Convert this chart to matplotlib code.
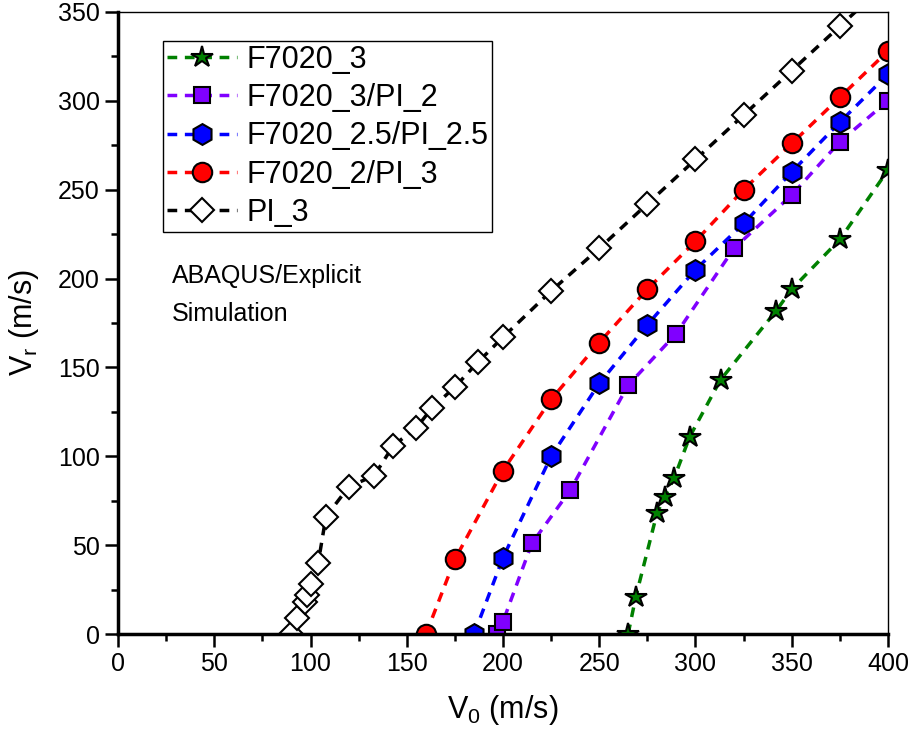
import numpy as np
import matplotlib
matplotlib.use("Agg")
import matplotlib.pyplot as plt
from matplotlib.ticker import MultipleLocator

plt.rcParams['font.family'] = ['Liberation Sans', 'DejaVu Sans']

# impact velocity V0 vs residual velocity Vr (m/s)
f3_v0 = [265, 269, 280, 284, 289, 297, 313, 342, 350, 375, 400]
f3_vr = [0, 21, 68, 77, 88, 111, 143, 182, 194, 222, 261]

f3pi2_v0 = [197, 200, 215, 235, 265, 290, 320, 350, 375, 400]
f3pi2_vr = [0, 7, 51, 81, 140, 169, 217, 247, 277, 300]

f25pi25_v0 = [185, 200, 225, 250, 275, 300, 325, 350, 375, 400]
f25pi25_vr = [0, 43, 100, 141, 174, 205, 231, 260, 288, 315]

f2pi3_v0 = [160, 175, 200, 225, 250, 275, 300, 325, 350, 375, 400]
f2pi3_vr = [0, 42, 92, 132, 164, 194, 221, 250, 276, 302, 328]

pi3_v0 = [90, 93, 97, 98, 100, 104, 108, 120, 133, 143, 155, 163, 175,
          187, 200, 225, 250, 275, 300, 325, 350, 375, 400]
pi3_vr = [0, 9, 18, 22, 28, 40, 66, 83, 89, 106, 116, 127, 139,
          153, 167, 193, 217, 242, 267, 292, 317, 342, 367]

series = [
    ('F7020_3', f3_v0, f3_vr, '#008000', '*', '#008000', 16),
    ('F7020_3/PI_2', f3pi2_v0, f3pi2_vr, '#8000FF', 's', '#8000FF', 11.5),
    ('F7020_2.5/PI_2.5', f25pi25_v0, f25pi25_vr, '#0000FF', 'h', '#0000FF', 15),
    ('F7020_2/PI_3', f2pi3_v0, f2pi3_vr, '#FF0000', 'o', '#FF0000', 14),
    ('PI_3', pi3_v0, pi3_vr, '#000000', 'D', 'white', 12),
]

fig = plt.figure(figsize=(9.1, 7.35), dpi=100)
ax = fig.add_axes([0.1297, 0.1374, 0.8461, 0.8463])

for name, x, y, c, m, fc, ms in series:
    ax.plot(x, y, color=c, lw=2.5, dashes=(2.8, 2.2), marker=m, ms=ms,
            mfc=fc, mec='black', mew=1.5, label=name)

ax.set_xlim(0, 400)
ax.set_ylim(0, 350)
ax.xaxis.set_major_locator(MultipleLocator(50))
ax.xaxis.set_minor_locator(MultipleLocator(25))
ax.yaxis.set_major_locator(MultipleLocator(50))
ax.yaxis.set_minor_locator(MultipleLocator(25))
ax.tick_params(which='major', direction='out', length=9.5, width=1.8, labelsize=18)
ax.tick_params(which='minor', direction='out', length=5, width=1.8)
ax.tick_params(top=False, right=False)
for s in ['left', 'bottom']:
    ax.spines[s].set_linewidth(2.5)
for s in ['top', 'right']:
    ax.spines[s].set_linewidth(1.0)

ax.set_xlabel(r'V$_\mathregular{0}$ (m/s)', fontsize=22, labelpad=12)
ax.set_ylabel(r'V$_\mathregular{r}$ (m/s)', fontsize=22, labelpad=12)

ax.text(0.07, 0.545, 'ABAQUS/Explicit\nSimulation', transform=ax.transAxes,
        fontsize=18, va='center', ha='left', linespacing=1.7)

leg = ax.legend(loc='upper left', bbox_to_anchor=(0.059, 0.953), fontsize=22,
                frameon=True, fancybox=False, edgecolor='black', framealpha=1,
                borderpad=0.12, handlelength=2.3, handletextpad=0.3,
                labelspacing=0.27, borderaxespad=0)
leg.get_frame().set_linewidth(1.0)

fig.savefig('out.png', dpi=100)
